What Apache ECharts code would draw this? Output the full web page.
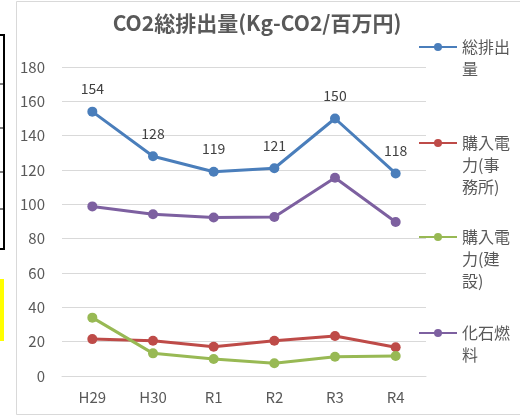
<!DOCTYPE html>
<html>
<head>
<meta charset="utf-8">
<script src="https://cdn.jsdelivr.net/npm/echarts@6/dist/echarts.min.js"></script>
<style>
html,body{margin:0;padding:0;background:#fff;}
#chart{width:520px;height:418px;}
</style>
</head>
<body>
<div id="chart"></div>
<script>
var categories = ['H29', 'H30', 'R1', 'R2', 'R3', 'R4'];
var seriesNames = ['総排出量', '購入電力(事務所)', '購入電力(建設)', '化石燃料'];
var legendLabels = ['総排出\n量', '購入電\n力(事\n務所)', '購入電\n力(建\n設)', '化石燃\n料'];
var totalValues = [154, 128, 119, 121, 150, 118];
var officeValues = [21.5, 20.5, 17, 20.5, 23.3, 16.7];
var constructionValues = [34, 13.2, 9.9, 7.4, 11.2, 11.6];
var fossilValues = [98.8, 94.2, 92.3, 92.6, 115.5, 89.7];
var yTicks = [0, 20, 40, 60, 80, 100, 120, 140, 160, 180];
var titleText = 'CO2総排出量(Kg-CO2/百万円)';

var colors = ['#4A7EBB', '#BE4B48', '#98B954', '#7D60A0'];
var font = '"Noto Sans CJK JP", "Noto Sans", sans-serif';
var txt = '#595959';

var chart = echarts.init(document.getElementById('chart'), null, {renderer: 'canvas'});

var legendFirstLine = [47, 143, 237, 333];
var lh = 22;
var legends = seriesNames.map(function (name, i) {
  var n = legendLabels[i].split('\n').length;
  var lead = '';
  for (var k = 0; k < n - 1; k++) lead += ' \n';
  return {
    orient: 'vertical',
    left: 418,
    top: legendFirstLine[i] - (2 * n - 1) * lh / 2,
    padding: 0,
    itemWidth: 38,
    itemHeight: 10,
    data: [name],
    formatter: function (nm) { return lead + legendLabels[seriesNames.indexOf(nm)]; },
    textStyle: {color: txt, fontSize: 16, fontFamily: font, lineHeight: lh}
  };
});

var seriesData = [totalValues, officeValues, constructionValues, fossilValues];

var option = {
  backgroundColor: '#fff',
  animation: false,
  color: colors,
  title: {
    text: titleText,
    left: 252, top: 8, textAlign: 'center',
    textStyle: {color: txt, fontSize: 21, fontWeight: 'bold', fontFamily: font}
  },
  legend: legends,
  grid: {left: 62, right: 94, top: 67, bottom: 42},
  xAxis: {
    type: 'category',
    data: categories,
    boundaryGap: true,
    axisLine: {lineStyle: {color: '#D9D9D9', width: 1}},
    axisTick: {show: false},
    axisLabel: {color: txt, fontSize: 15, fontFamily: font, margin: 14}
  },
  yAxis: {
    type: 'value',
    min: yTicks[0], max: yTicks[yTicks.length - 1], interval: 20,
    axisLine: {show: false},
    axisTick: {show: false},
    splitLine: {lineStyle: {color: '#D9D9D9', width: 1}},
    axisLabel: {color: txt, fontSize: 15, fontFamily: font, margin: 17}
  },
  series: seriesData.map(function (d, i) {
    return {
      name: seriesNames[i],
      type: 'line',
      data: d,
      symbol: 'circle',
      symbolSize: 10,
      lineStyle: {width: 3, color: colors[i]},
      itemStyle: {color: colors[i]},
      z: i === 0 ? 5 : 3,
      label: i === 0 ? {
        show: true, position: 'top', distance: 11,
        color: '#404040', fontSize: 14, fontFamily: font
      } : {show: false}
    };
  }),
  graphic: [
    {type: 'rect', shape: {x: 16.5, y: 1.5, width: 520, height: 413}, style: {fill: 'none', stroke: '#D9D9D9', lineWidth: 1}, silent: true, z: -1},
    {type: 'rect', shape: {x: -10, y: 35, width: 14, height: 214}, style: {fill: 'none', stroke: '#000', lineWidth: 2}, silent: true},
    {type: 'line', shape: {x1: 0, y1: 84, x2: 4, y2: 84}, style: {stroke: '#000', lineWidth: 1}, silent: true},
    {type: 'line', shape: {x1: 0, y1: 128, x2: 4, y2: 128}, style: {stroke: '#000', lineWidth: 1}, silent: true},
    {type: 'line', shape: {x1: 0, y1: 172, x2: 4, y2: 172}, style: {stroke: '#000', lineWidth: 1}, silent: true},
    {type: 'line', shape: {x1: 0, y1: 209, x2: 4, y2: 209}, style: {stroke: '#000', lineWidth: 1}, silent: true},
    {type: 'rect', shape: {x: 0, y: 279, width: 4, height: 62}, style: {fill: '#FFFF00'}, silent: true}
  ]
};
chart.setOption(option);
</script>
</body>
</html>
